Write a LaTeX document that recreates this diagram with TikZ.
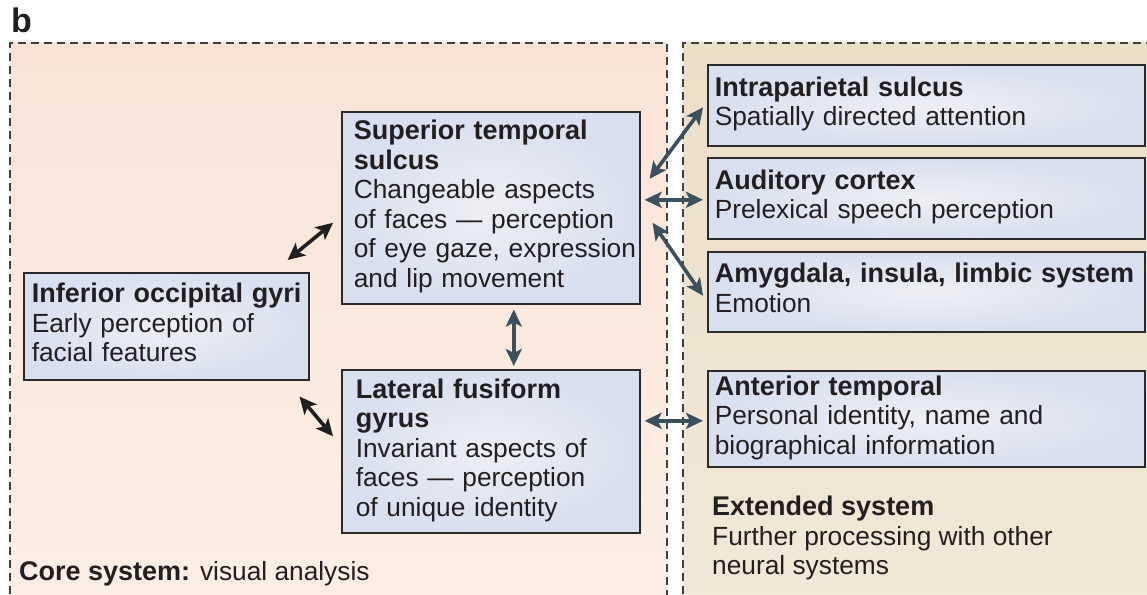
\documentclass[tikz,border=0pt]{standalone}
\usepackage{fontspec}
\setmainfont{Liberation Sans}
\usetikzlibrary{arrows.meta}
\definecolor{peachtop}{HTML}{F9E3D7}
\definecolor{peachbot}{HTML}{FCEFE6}
\definecolor{beigetop}{HTML}{ECDFC8}
\definecolor{beigebot}{HTML}{F1E8D8}
\definecolor{boxin}{HTML}{EEEFF4}
\definecolor{boxout}{HTML}{D8DFEE}
\definecolor{boxline}{HTML}{2A2A2A}
\definecolor{slate}{HTML}{3A505C}
\definecolor{ink}{HTML}{231F20}
\definecolor{dashgray}{HTML}{404040}
\newcommand{\boxtext}[1]{\begin{tabular}{@{}l@{}}#1\end{tabular}}
\newcommand{\hd}[1]{{\fontsize{27}{29.5}\selectfont\bfseries #1}}
\begin{document}
\begin{tikzpicture}[x=1pt,y=-1pt,
  panel/.style={draw=dashgray, line width=1.5pt, dash pattern=on 8pt off 5pt},
  box/.style={draw=boxline, line width=1.6pt, inner color=boxin, outer color=boxout,
    anchor=north west, align=left, inner ysep=0pt, text=ink,
    font=\fontsize{26.3}{29.5}\selectfont},
  lab/.style={text=ink, inner sep=0pt, font=\fontsize{26.3}{29.5}\selectfont},
  arr/.style={{Stealth[length=17pt,width=16pt,inset=4pt]}-{Stealth[length=17pt,width=16pt,inset=4pt]}, line width=3.6pt, slate},
  blackarr/.style={arr, draw=black!88}
]
\useasboundingbox (0,0) rectangle (1147,594);
\begin{scope}
\clip (0,0) rectangle (1147,594);
\shade[top color=peachtop, bottom color=peachbot] (10,43) rectangle (667,620);
\draw[panel] (10,620) -- (10,43) -- (667,43) -- (667,620);
\shade[top color=beigetop, bottom color=beigebot] (683,43) rectangle (1170,620);
\draw[panel] (683,620) -- (683,43) -- (1170,43);
\end{scope}

\node[lab, anchor=base west, font=\fontsize{34}{34}\selectfont\bfseries] (blabel) at (11,33) {b};

% core system boxes
\node[box, minimum height=192, text width=274, inner xsep=12] (sts) at (341,111)
  {\boxtext{\hd{Superior temporal}\\\hd{sulcus}\\Changeable aspects\\of faces — perception\\of eye gaze, expression\\and lip movement}};
\node[box, minimum height=107, text width=269, inner xsep=8] (iog) at (23,272)
  {\boxtext{\hd{Inferior occipital gyri}\\Early perception of\\facial features}};
\node[box, minimum height=163, text width=270, inner xsep=14] (lfg) at (341,369)
  {\boxtext{\hd{Lateral fusiform}\\\hd{gyrus}\\Invariant aspects of\\faces — perception\\of unique identity}};

% extended system boxes
\node[box, minimum height=81, text width=423, inner xsep=7] (ips) at (707,64)
  {\boxtext{\hd{Intraparietal sulcus}\\Spatially directed attention}};
\node[box, minimum height=81, text width=423, inner xsep=7] (aud) at (707,157)
  {\boxtext{\hd{Auditory cortex}\\Prelexical speech perception}};
\node[box, minimum height=80, text width=423, inner xsep=7] (amy) at (707,251)
  {\boxtext{\hd{Amygdala, insula, limbic system}\\Emotion}};
\node[box, minimum height=96, text width=423, inner xsep=7] (ant) at (707,370)
  {\boxtext{\hd{Anterior temporal}\\Personal identity, name and\\biographical information}};

% labels
\node[lab, anchor=base west] (core) at (19,580) {\hd{Core system:} visual analysis};
\node[lab, anchor=north west] (ext) at (712,495)
  {\boxtext{\hd{Extended system}\\Further processing with other\\neural systems}};

% connectors
\draw[blackarr] ([shift={(-22,-12)}]iog.north east) -- ([shift={(-8,15)}]sts.west);
\draw[blackarr] ([shift={(-10,16)}]iog.south east) -- ([shift={(-8,-15)}]lfg.west);
\draw[arr] ([shift={(23,5)}]sts.south) -- ([shift={(23,-3)}]lfg.north);
\draw[arr] ([shift={(9,-29)}]sts.east) -- ([shift={(-4,2)}]ips.west);
\draw[arr] ([shift={(4,-8)}]sts.east) -- ([shift={(-4,1.5)}]aud.west);
\draw[arr] ([shift={(12,15)}]sts.east) -- ([shift={(-4,4)}]amy.west);
\draw[arr] ([shift={(4,-30.5)}]lfg.east) -- ([shift={(-4,2)}]ant.west);
\end{tikzpicture}
\end{document}
